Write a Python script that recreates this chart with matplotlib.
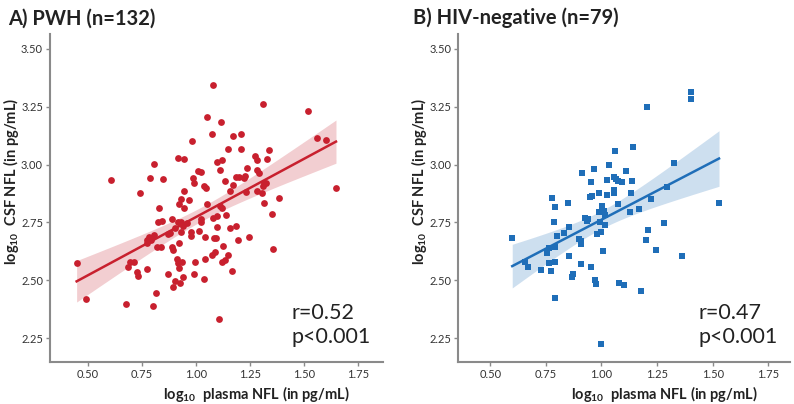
import numpy as np
import matplotlib
matplotlib.use("Agg")
import matplotlib.pyplot as plt

plt.rcParams["font.family"] = ["Lato", "DejaVu Sans"]
plt.rcParams["mathtext.fontset"] = "custom"
plt.rcParams["mathtext.rm"] = "Lato"
plt.rcParams["mathtext.bf"] = "Lato:bold"

# panel A: PWH, log10 plasma NFL vs log10 CSF NFL
pwh_plasma = [
    1.079, 1.051, 1.117, 1.073, 0.982, 1.147, 0.918, 0.946, 0.805, 1.099,
    1.120, 1.008, 1.025, 1.112, 0.609, 0.786, 0.848, 0.985, 0.992, 1.137,
    1.037, 1.048, 0.946, 0.743, 0.931, 0.968, 1.311, 1.519, 1.171, 1.211,
    1.559, 1.604, 1.208, 1.337, 1.273, 1.285, 1.331, 1.237, 1.285, 1.294,
    1.184, 1.199, 1.228, 1.223, 1.170, 1.313, 1.325, 1.310, 1.157, 1.234,
    1.282, 1.308, 1.385, 1.648, 0.829, 0.923, 0.946, 1.051, 1.114, 1.120,
    0.825, 0.843, 0.889, 0.918, 0.930, 0.957, 0.942, 1.022, 1.023, 1.080,
    1.099, 1.139, 0.903, 0.880, 0.870, 0.931, 0.977, 0.980, 1.015, 1.099,
    0.808, 0.782, 0.774, 0.775, 0.794, 0.920, 1.043, 1.083, 1.093, 0.820,
    0.839, 0.889, 0.893, 1.126, 1.089, 1.077, 1.147, 0.449, 0.694, 0.715,
    0.685, 0.773, 0.911, 0.916, 0.937, 0.994, 1.043, 1.120, 1.134, 0.920,
    0.728, 0.734, 0.870, 0.990, 0.943, 0.905, 0.928, 1.036, 0.894, 0.814,
    0.491, 0.677, 0.800, 1.108, 1.313, 1.351, 1.157, 1.186, 1.197, 1.245,
    1.359, 1.168,
]
pwh_csf = [
    3.344, 3.206, 3.183, 3.131, 3.102, 3.068, 3.030, 3.025, 3.003, 3.010,
    3.019, 2.974, 2.967, 2.978, 2.934, 2.941, 2.937, 2.941, 2.922, 2.930,
    2.909, 2.901, 2.886, 2.878, 2.850, 2.847, 3.262, 3.231, 3.123, 3.131,
    3.115, 3.105, 3.069, 3.065, 3.036, 3.022, 3.025, 2.986, 2.977, 2.964,
    2.946, 2.946, 2.951, 2.943, 2.911, 2.920, 2.922, 2.908, 2.888, 2.881,
    2.888, 2.876, 2.855, 2.898, 2.813, 2.829, 2.814, 2.831, 2.822, 2.814,
    2.752, 2.755, 2.767, 2.751, 2.754, 2.748, 2.735, 2.765, 2.754, 2.770,
    2.777, 2.784, 2.728, 2.706, 2.702, 2.708, 2.709, 2.693, 2.712, 2.732,
    2.696, 2.688, 2.675, 2.663, 2.676, 2.663, 2.688, 2.682, 2.685, 2.646,
    2.643, 2.646, 2.633, 2.650, 2.623, 2.610, 2.608, 2.575, 2.578, 2.581,
    2.559, 2.551, 2.594, 2.576, 2.580, 2.580, 2.591, 2.580, 2.587, 2.552,
    2.538, 2.519, 2.528, 2.528, 2.513, 2.497, 2.490, 2.506, 2.473, 2.446,
    2.420, 2.399, 2.389, 2.334, 2.834, 2.787, 2.728, 2.734, 2.675, 2.686,
    2.636, 2.542,
]

# panel B: HIV-negative
neg_plasma = [
    1.060, 1.141, 0.912, 0.966, 1.034, 1.111, 0.955, 1.025, 1.055, 1.064,
    1.073, 1.091, 1.138, 0.778, 0.949, 0.959, 0.991, 1.024, 1.055, 1.057,
    1.132, 1.401, 1.401, 1.205, 1.325, 1.295, 1.222, 0.792, 0.850, 1.076,
    1.004, 1.168, 1.129, 0.989, 1.012, 1.018, 0.787, 0.928, 0.934, 0.993,
    1.016, 0.853, 0.832, 0.802, 0.979, 1.000, 0.599, 0.900, 0.909, 0.907,
    0.764, 0.792, 0.757, 1.006, 0.856, 0.657, 0.672, 0.765, 0.792, 0.910,
    0.729, 0.774, 0.952, 0.867, 0.873, 0.973, 0.976, 1.078, 1.099, 1.176,
    0.793, 1.528, 1.280, 1.211, 1.199, 1.247, 1.361, 0.997, 0.940,
]
neg_csf = [
    3.059, 3.076, 2.965, 2.981, 3.000, 2.971, 2.925, 2.935, 2.946, 2.940,
    2.931, 2.925, 2.930, 2.857, 2.859, 2.865, 2.876, 2.868, 2.876, 2.892,
    2.879, 3.313, 3.284, 3.248, 3.009, 2.902, 2.850, 2.816, 2.836, 2.830,
    2.820, 2.809, 2.794, 2.794, 2.799, 2.784, 2.754, 2.771, 2.757, 2.754,
    2.739, 2.731, 2.706, 2.691, 2.702, 2.710, 2.685, 2.680, 2.670, 2.657,
    2.641, 2.646, 2.617, 2.626, 2.607, 2.578, 2.557, 2.575, 2.580, 2.571,
    2.545, 2.541, 2.557, 2.516, 2.526, 2.500, 2.486, 2.490, 2.480, 2.454,
    2.424, 2.834, 2.748, 2.719, 2.676, 2.631, 2.604, 2.225, 2.765,
]

titles = ["A) PWH (n=132)", "B) HIV-negative (n=79)"]
stats_text = ["r=0.52\np<0.001", "r=0.47\np<0.001"]
x_ticks = [0.50, 0.75, 1.00, 1.25, 1.50, 1.75]
y_ticks = [2.25, 2.50, 2.75, 3.00, 3.25, 3.50]

RED = "#c8202e"
BLUE = "#1f6eb8"
GREY = "#8a8a8a"


def reg_band(x, y, n_grid=100):
    x = np.asarray(x)
    y = np.asarray(y)
    slope, icpt = np.polyfit(x, y, 1)
    grid = np.linspace(x.min(), x.max(), n_grid)
    fit = icpt + slope * grid
    resid = y - (icpt + slope * x)
    n = len(x)
    s = np.sqrt(np.sum(resid ** 2) / (n - 2))
    sxx = np.sum((x - x.mean()) ** 2)
    se = s * np.sqrt(1.0 / n + (grid - x.mean()) ** 2 / sxx)
    return grid, fit, fit - 1.98 * se, fit + 1.98 * se


fig = plt.figure(figsize=(7.94, 4.04), dpi=100)
ax_a = fig.add_axes([0.063, 0.104, 0.419, 0.812])
ax_b = fig.add_axes([0.577, 0.104, 0.418, 0.812])

panels = [
    (ax_a, pwh_plasma, pwh_csf, RED, "o", 24, (0.326, 1.864)),
    (ax_b, neg_plasma, neg_csf, BLUE, "s", 20, (0.356, 1.847)),
]

for i, (ax, xs, ys, col, mk, ms, xlim) in enumerate(panels):
    grid, fit, lo, hi = reg_band(xs, ys)
    ax.fill_between(grid, lo, hi, color=col, alpha=0.22, linewidth=0, zorder=1)
    ax.scatter(xs, ys, s=ms, marker=mk, color=col, linewidths=0, zorder=2)
    ax.plot(grid, fit, color=col, lw=1.8, zorder=3)

    ax.set_xlim(*xlim)
    ax.set_ylim(2.147, 3.565)
    ax.set_xticks(x_ticks)
    ax.set_xticklabels([f"{t:.2f}" for t in x_ticks])
    ax.set_yticks(y_ticks)
    ax.set_yticklabels([f"{t:.2f}" for t in y_ticks])
    ax.tick_params(labelsize=8, colors=GREY, labelcolor="#333333", length=3,
                   width=1, pad=2)
    for side in ["top", "right"]:
        ax.spines[side].set_visible(False)
    for side in ["left", "bottom"]:
        ax.spines[side].set_color(GREY)
        ax.spines[side].set_linewidth(1.5)

    ax.set_xlabel(r"log$_{\mathbf{10}}$  plasma NFL (in pg/mL)", fontsize=10.5,
                  fontweight="bold", color="#222222")
    ax.xaxis.set_label_coords(0.62, -0.068)
    ax.set_ylabel(r"log$_{\mathbf{10}}$  CSF NFL (in pg/mL)", fontsize=10.5,
                  fontweight="bold", color="#222222")
    ax.yaxis.set_label_coords(-0.088, 0.55)

    ax.text(0.725, 0.045, stats_text[i], transform=ax.transAxes, fontsize=15.5,
            color="#222222", ha="left", va="bottom", linespacing=1.25)

fig.text(0.01, 0.955, titles[0], fontsize=14.5, fontweight="bold", color="#222222",
         va="center")
fig.text(0.52, 0.955, titles[1], fontsize=14.5, fontweight="bold", color="#222222",
         va="center")

fig.savefig("out.png", dpi=100)
